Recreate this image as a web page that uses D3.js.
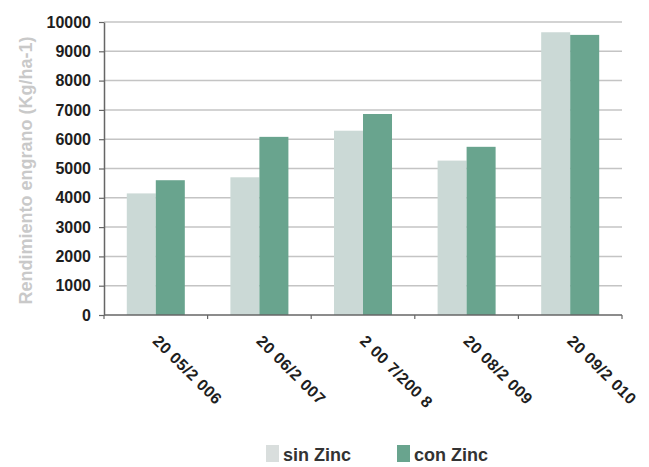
<!DOCTYPE html>
<html>
<head>
<meta charset="utf-8">
<script src="https://cdn.jsdelivr.net/npm/d3@7"></script>
<style>
  html, body { margin: 0; padding: 0; background: #fff; }
  svg { display: block; font-family: "Liberation Sans", Arial, sans-serif; }
</style>
</head>
<body>
<svg id="chart" width="649" height="467"></svg>
<script>
// Grain yield per season, without and with zinc
const seasons = ["20 05/2 006", "20 06/2 007", "2 00 7/200 8", "20 08/2 009", "20 09/2 010"];
const sinZinc = [4150, 4700, 6290, 5270, 9650];
const conZinc = [4600, 6080, 6860, 5740, 9560];
const seriesNames = ["sin Zinc", "con Zinc"];
const seriesColors = ["#cbd9d6", "#69a48e"];
const yTicks = [0, 1000, 2000, 3000, 4000, 5000, 6000, 7000, 8000, 9000, 10000];
const yTitle = "Rendimiento engrano (Kg/ha-1)";

const svg = d3.select("#chart");
const plot = { left: 104, right: 622, top: 22, bottom: 315 };

const x = d3.scaleBand()
  .domain(seasons)
  .range([plot.left, plot.right])
  .paddingInner(0.44)
  .paddingOuter(0.22);

const xSub = d3.scaleBand()
  .domain(seriesNames)
  .range([0, x.bandwidth()]);

const y = d3.scaleLinear()
  .domain([0, 10000])
  .range([plot.bottom, plot.top]);

// horizontal gridlines
svg.append("g")
  .selectAll("line")
  .data(yTicks.filter(d => d > 0))
  .join("line")
  .attr("x1", plot.left)
  .attr("x2", plot.right)
  .attr("y1", d => y(d))
  .attr("y2", d => y(d))
  .attr("stroke", "#c4c4c4")
  .attr("stroke-width", 1.5);

// bars
const rows = seasons.map((s, i) => ({ season: s, values: [sinZinc[i], conZinc[i]] }));
svg.append("g")
  .selectAll("g")
  .data(rows)
  .join("g")
  .attr("transform", d => `translate(${x(d.season)},0)`)
  .selectAll("rect")
  .data(d => d.values.map((v, k) => ({ name: seriesNames[k], value: v, color: seriesColors[k] })))
  .join("rect")
  .attr("x", d => xSub(d.name))
  .attr("y", d => y(d.value))
  .attr("width", xSub.bandwidth())
  .attr("height", d => y(0) - y(d.value))
  .attr("fill", d => d.color);

// y axis
const yAxis = svg.append("g")
  .attr("transform", `translate(${plot.left},0)`)
  .call(d3.axisLeft(y).tickValues(yTicks).tickFormat(d3.format("d")).tickSize(5).tickPadding(8).tickSizeOuter(0));
yAxis.select(".domain").attr("stroke", "#666").attr("stroke-width", 1.5);
yAxis.selectAll(".tick line").attr("stroke", "#666").attr("stroke-width", 1.2);
yAxis.selectAll(".tick text")
  .attr("fill", "#1e1e1e")
  .style("font-size", "16px")
  .style("font-weight", "bold")
  .style("font-family", "'Liberation Sans', Arial, sans-serif");

// x axis with ticks between categories
const xAxisG = svg.append("g")
  .attr("transform", `translate(0,${plot.bottom})`);
xAxisG.append("line")
  .attr("x1", plot.left)
  .attr("x2", plot.right)
  .attr("stroke", "#666")
  .attr("stroke-width", 1.5);
const boundaries = d3.range(seasons.length + 1).map(i => plot.left + i * (plot.right - plot.left) / seasons.length);
xAxisG.selectAll("line.tk")
  .data(boundaries)
  .join("line")
  .attr("class", "tk")
  .attr("x1", d => d)
  .attr("x2", d => d)
  .attr("y1", 0)
  .attr("y2", 4)
  .attr("stroke", "#666")
  .attr("stroke-width", 1.2);

// rotated category labels
xAxisG.selectAll("text")
  .data(seasons)
  .join("text")
  .attr("transform", d => `translate(${x(d) + x.bandwidth() / 2 - 4},27) rotate(45)`)
  .attr("text-anchor", "start")
  .attr("fill", "#1e1e1e")
  .style("font-size", "16px")
  .style("font-weight", "bold")
  .style("letter-spacing", "0.5px")
  .text(d => d);

// y axis title
svg.append("text")
  .attr("transform", `translate(32,${(plot.top + plot.bottom) / 2 + 2}) rotate(-90)`)
  .attr("text-anchor", "middle")
  .attr("fill", "#c9c9c9")
  .style("font-size", "18px")
  .style("font-weight", "bold")
  .text(yTitle);

// legend
const legendX = [266, 397];
const legend = svg.append("g")
  .selectAll("g")
  .data(seriesNames)
  .join("g")
  .attr("transform", (d, i) => `translate(${legendX[i]},445)`);
legend.append("rect")
  .attr("width", 13)
  .attr("height", 17)
  .attr("fill", (d, i) => i === 0 ? "#d9dedd" : seriesColors[1]);
legend.append("text")
  .attr("x", 17)
  .attr("y", 16)
  .attr("fill", "#333")
  .style("font-size", "18px")
  .style("font-weight", "bold")
  .text(d => d);
</script>
</body>
</html>
